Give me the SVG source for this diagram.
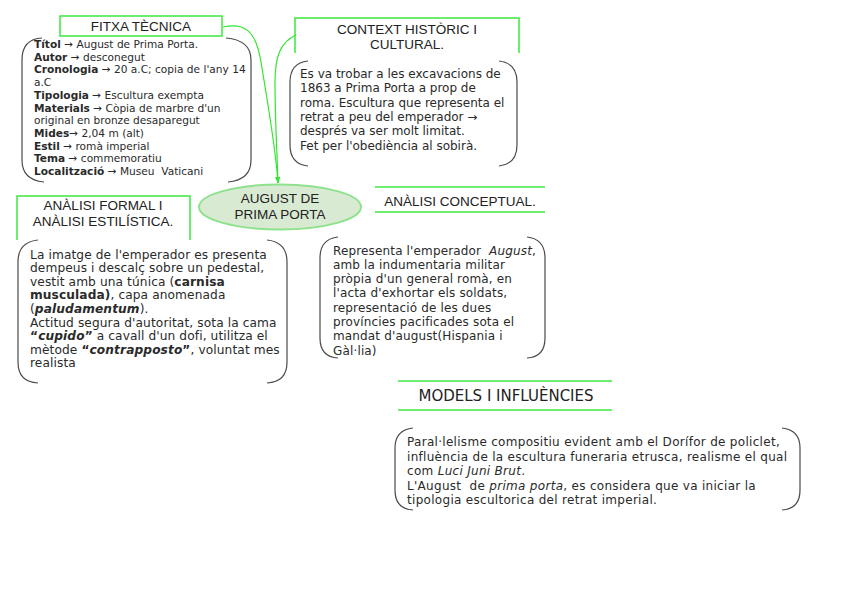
<svg xmlns="http://www.w3.org/2000/svg" width="848" height="600" viewBox="0 0 848 600">
<defs>
<marker id="arr" viewBox="0 0 10 10" refX="9" refY="5" markerWidth="7" markerHeight="7" orient="auto-start-reverse" markerUnits="userSpaceOnUse">
<path d="M0,1 L10,5 L0,9 z" fill="#33e633"/>
</marker>
<style>
.hdr{fill:none;stroke:#3ee83e;stroke-width:1.5}
.brk{fill:none;stroke:#4a4a4a;stroke-width:1.2}
.ht{font-family:"Liberation Sans",Arial,sans-serif;font-size:13.5px;fill:#222;text-anchor:middle}
.body{font-family:"DejaVu Sans","Noto Sans",sans-serif;font-size:12px;fill:#2a2a2a}
.fx{font-family:"DejaVu Sans","Noto Sans",sans-serif;font-size:10.6px;fill:#2a2a2a}
.b{font-weight:bold}
.i{font-style:italic}
.bi{font-style:italic;font-weight:bold}
.con{fill:none;stroke:#33e633;stroke-width:1.2}
</style>
</defs>
<rect width="848" height="600" fill="#fff"/>

<g id="connectors">
<path class="con" d="M223,27 C246,22 256,32 261,62 C268,105 276,150 278,183" marker-end="url(#arr)"/>
<path class="con" d="M296,35 C281,42 275,55 275,82 C275,120 277,150 278,183"/>
</g>

<g id="center">
<ellipse cx="280" cy="207" rx="81" ry="22.5" fill="#d9ead3" stroke="#8ee28e" stroke-width="2"/>
<text class="ht" x="280" y="203">AUGUST DE</text>
<text class="ht" x="280" y="219">PRIMA PORTA</text>
</g>

<g id="fitxa-header">
<rect class="hdr" x="60" y="16" width="162" height="20"/>
<text class="ht" x="141" y="31">FITXA TÈCNICA</text>
</g>

<g id="fitxa-box">
<path class="brk" d="M42,38 Q22,39 22,60 L22,160 Q22,180 44,182"/>
<path class="brk" d="M226,38 Q251,40 251,60 L251,160 Q251,180 228,182"/>
<text class="fx" x="34">
<tspan x="34" y="48"><tspan class="b">Títol</tspan> → August de Prima Porta.</tspan>
<tspan x="34" y="60.7"><tspan class="b">Autor</tspan> → desconegut</tspan>
<tspan x="34" y="73.4"><tspan class="b">Cronologia</tspan> → 20 a.C; copia de l'any 14</tspan>
<tspan x="34" y="86.1">a.C</tspan>
<tspan x="34" y="98.8"><tspan class="b">Tipologia</tspan> → Escultura exempta</tspan>
<tspan x="34" y="111.5"><tspan class="b">Materials</tspan> → Còpia de marbre d'un</tspan>
<tspan x="34" y="124.2">original en bronze desaparegut</tspan>
<tspan x="34" y="136.9"><tspan class="b">Mides</tspan>→ 2,04 m (alt)</tspan>
<tspan x="34" y="149.6"><tspan class="b">Estil</tspan> → romà imperial</tspan>
<tspan x="34" y="162.3"><tspan class="b">Tema</tspan> → commemoratiu</tspan>
<tspan x="34" y="175"><tspan class="b">Localització</tspan> → Museu&#160; Vaticani</tspan>
</text>
</g>

<g id="context-header">
<path class="hdr" d="M295,53 L295,18 L519,18 L519,53"/>
<text class="ht" x="407" y="34">CONTEXT HISTÒRIC I</text>
<text class="ht" x="407" y="49">CULTURAL.</text>
</g>

<g id="context-box">
<path class="brk" d="M308,61 Q290,63 290,82 L290,145 Q290,164 308,166"/>
<path class="brk" d="M499,61 Q517,63 517,82 L517,145 Q517,164 499,166"/>
<text class="body">
<tspan x="300" y="78">Es va trobar a les excavacions de</tspan>
<tspan x="300" y="92.3">1863 a Prima Porta a prop de</tspan>
<tspan x="300" y="106.6">roma. Escultura que representa el</tspan>
<tspan x="300" y="120.9">retrat a peu del emperador →</tspan>
<tspan x="300" y="135.2">després va ser molt limitat.</tspan>
<tspan x="300" y="149.5">Fet per l'obediència al sobirà.</tspan>
</text>
</g>

<g id="formal-header">
<path class="hdr" d="M17,240 L17,196 L190,196 L190,240"/>
<text class="ht" x="103" y="210">ANÀLISI FORMAL I</text>
<text class="ht" x="103" y="226">ANÀLISI ESTILÍSTICA.</text>
</g>

<g id="formal-box">
<path class="brk" d="M38,240 Q18,242 18,262 L18,362 Q18,382 38,383"/>
<path class="brk" d="M267,240 Q287,242 287,262 L287,362 Q287,382 267,383"/>
<text class="body" style="font-size:12.2px;letter-spacing:0.1px">
<tspan x="30" y="258.5">La imatge de l'emperador es presenta</tspan>
<tspan x="30" y="272.1">dempeus i descalç sobre un pedestal,</tspan>
<tspan x="30" y="285.7">vestit amb una túnica (<tspan class="b">carnisa</tspan></tspan>
<tspan x="30" y="299.3" class="b">musculada)<tspan font-weight="normal">, capa anomenada</tspan></tspan>
<tspan x="30" y="312.9">(<tspan class="bi">paludamentum</tspan>).</tspan>
<tspan x="30" y="326.5">Actitud segura d'autoritat, sota la cama</tspan>
<tspan x="30" y="340.1"><tspan class="b">“</tspan><tspan class="bi">cupido</tspan><tspan class="b">”</tspan> a cavall d'un dofi, utilitza el</tspan>
<tspan x="30" y="353.7">mètode <tspan class="b">“</tspan><tspan class="bi">contrapposto</tspan><tspan class="b">”</tspan>, voluntat mes</tspan>
<tspan x="30" y="367.3">realista</tspan>
</text>
</g>

<g id="conceptual-header">
<line class="hdr" x1="375" y1="187" x2="545" y2="187"/>
<line class="hdr" x1="375" y1="212" x2="545" y2="212"/>
<text class="ht" x="460" y="206">ANÀLISI CONCEPTUAL.</text>
</g>

<g id="conceptual-box">
<path class="brk" d="M338,237 Q320,239 320,258 L320,338 Q320,357 338,358"/>
<path class="brk" d="M527,237 Q545,239 545,258 L545,338 Q545,357 527,358"/>
<text class="body" style="letter-spacing:0.15px">
<tspan x="333" y="254.5">Representa l'emperador&#160; <tspan class="i">August</tspan>,</tspan>
<tspan x="333" y="268.8">amb la indumentaria militar</tspan>
<tspan x="333" y="283.1">pròpia d'un general romà, en</tspan>
<tspan x="333" y="297.4">l'acta d'exhortar els soldats,</tspan>
<tspan x="333" y="311.7">representació de les dues</tspan>
<tspan x="333" y="326">províncies pacificades sota el</tspan>
<tspan x="333" y="340.3">mandat d'august(Hispania i</tspan>
<tspan x="333" y="354.6">Gàl·lia)</tspan>
</text>
</g>

<g id="models-header">
<line class="hdr" x1="398" y1="381" x2="612" y2="381"/>
<line class="hdr" x1="398" y1="410" x2="612" y2="410"/>
<text x="506" y="401" text-anchor="middle" style="font-family:'DejaVu Sans','Noto Sans',sans-serif;font-size:15px;fill:#222">MODELS I INFLUÈNCIES</text>
</g>

<g id="models-box">
<path class="brk" d="M413,428 Q395,430 395,448 L395,490 Q395,509 413,510"/>
<path class="brk" d="M782,428 Q800,430 800,448 L800,490 Q800,509 782,510"/>
<text class="body" style="letter-spacing:0.3px">
<tspan x="407" y="446">Paral·lelisme compositiu evident amb el Dorífor de policlet,</tspan>
<tspan x="407" y="460.5">influència de la escultura funeraria etrusca, realisme el qual</tspan>
<tspan x="407" y="475">com <tspan class="i">Luci Juni Brut</tspan>.</tspan>
<tspan x="407" y="489.5">L'August&#160; de <tspan class="i">prima porta</tspan>, es considera que va iniciar la</tspan>
<tspan x="407" y="504">tipologia escultorica del retrat imperial.</tspan>
</text>
</g>
</svg>
